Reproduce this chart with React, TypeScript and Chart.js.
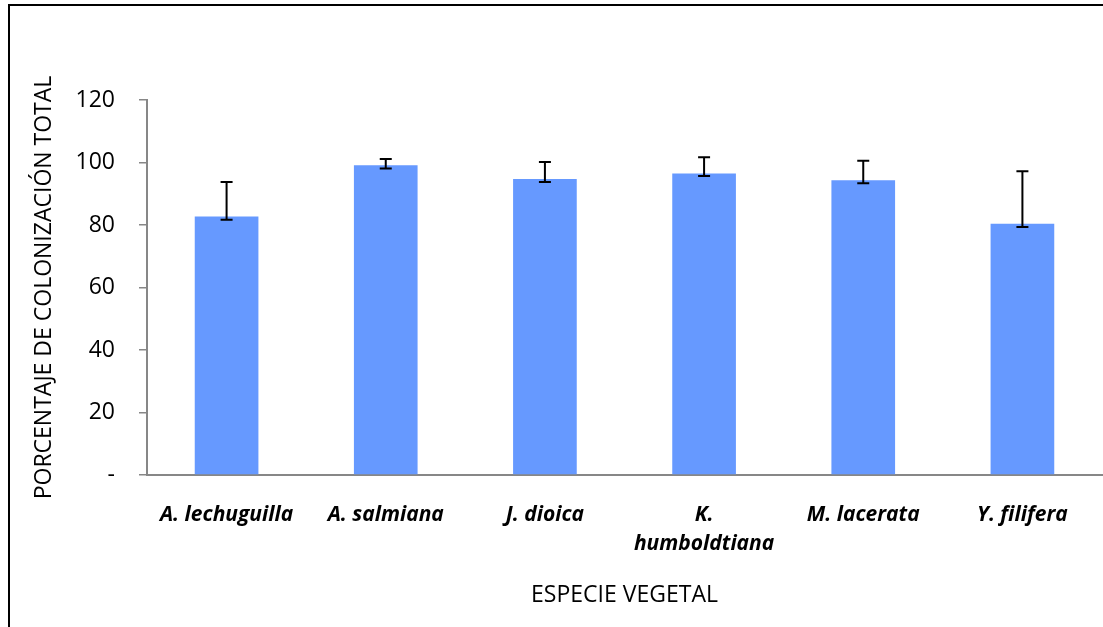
import React, { useEffect, useRef } from "react";
import { Chart, registerables } from "chart.js";

Chart.register(...registerables);

const categories: (string | string[])[] = [
  "A. lechuguilla",
  "A. salmiana",
  "J. dioica",
  ["K.", "humboldtiana"],
  "M. lacerata",
  "Y. filifera",
];
const values = [82.7, 99.1, 94.7, 96.5, 94.3, 80.4];
const errPlus = [11.1, 2.0, 5.5, 5.2, 6.3, 16.8];
const errMinus = [1.0, 1.0, 0.9, 0.8, 0.9, 1.0];
const yMin = 0;
const yMax = 120;
const yStep = 20;
const zeroTickLabel = "-";
const yTitle = "PORCENTAJE DE COLONIZACIÓN TOTAL";
const xTitle = "ESPECIE VEGETAL";

const AXIS_GRAY = "#878787";
const FONT = "'Open Sans', 'Noto Sans', sans-serif";

const errorBarPlugin = {
  id: "errorBars",
  afterDatasetsDraw(chart: any) {
    const meta = chart.getDatasetMeta(0);
    const y = chart.scales.y;
    const ctx = chart.ctx;
    ctx.save();
    ctx.strokeStyle = "#000000";
    ctx.lineWidth = 2;
    meta.data.forEach((bar: any, i: number) => {
      const x = bar.x;
      const top = y.getPixelForValue(values[i] + errPlus[i]);
      const bot = y.getPixelForValue(values[i] - errMinus[i]);
      const cap = 6;
      ctx.beginPath();
      ctx.moveTo(x, top);
      ctx.lineTo(x, bot);
      ctx.moveTo(x - cap, top);
      ctx.lineTo(x + cap, top);
      ctx.moveTo(x - cap, bot);
      ctx.lineTo(x + cap, bot);
      ctx.stroke();
    });
    ctx.restore();
  },
};

export default function App() {
  const ref = useRef<HTMLCanvasElement | null>(null);

  useEffect(() => {
    if (!ref.current) return;
    const chart = new Chart(ref.current, {
      type: "bar",
      data: {
        labels: categories as any,
        datasets: [
          {
            data: values,
            backgroundColor: "#6699FF",
            borderWidth: 0,
            barPercentage: 0.4,
            categoryPercentage: 1.0,
          },
        ],
      },
      options: {
        responsive: false,
        animation: false,
        devicePixelRatio: 1,
        layout: { padding: { left: 0, right: 1, top: 100, bottom: 0 } },
        plugins: {
          legend: { display: false },
          tooltip: { enabled: false },
        },
        scales: {
          x: {
            grid: { drawOnChartArea: false, drawTicks: false },
            border: { display: true, color: AXIS_GRAY, width: 2 },
            ticks: {
              color: "#000000",
              padding: 25,
              maxRotation: 0,
              autoSkip: false,
              font: { family: FONT, size: 21, weight: "bold", style: "italic", lineHeight: 1.4 },
            },
            title: {
              display: true,
              text: xTitle,
              color: "#000000",
              font: { family: FONT, size: 23, lineHeight: 1.2 },
              padding: { top: 0, bottom: 18 },
            },
            afterFit: (scale: any) => {
              scale.height = 152;
            },
          },
          y: {
            min: yMin,
            max: yMax,
            grid: { drawOnChartArea: false, drawTicks: true, tickLength: 8, color: AXIS_GRAY, lineWidth: 1.5 },
            border: { display: true, color: AXIS_GRAY, width: 2 },
            ticks: {
              stepSize: yStep,
              color: "#000000",
              padding: 24,
              font: { family: FONT, size: 23 },
              callback: (v: any) => (Number(v) === 0 ? zeroTickLabel : String(v)),
            },
            title: {
              display: true,
              text: yTitle,
              color: "#000000",
              font: { family: FONT, size: 23, lineHeight: 1.2 },
              padding: { top: 31, bottom: 0 },
            },
            afterFit: (scale: any) => {
              scale.width = 147;
            },
          },
        },
      },
      plugins: [errorBarPlugin],
    });
    return () => chart.destroy();
  }, []);

  return (
    <div
      style={{
        position: "fixed",
        left: 0,
        top: 0,
        width: 1103,
        height: 627,
        overflow: "hidden",
        background: "#ffffff",
      }}
    >
      <div
        style={{
          position: "absolute",
          left: 8,
          top: 4,
          width: 2000,
          height: 2000,
          borderLeft: "2px solid #000",
          borderTop: "2px solid #000",
        }}
      />
      <canvas
        ref={ref}
        width={1103}
        height={627}
        style={{ position: "absolute", left: 0, top: 0, width: 1103, height: 627 }}
      />
    </div>
  );
}
